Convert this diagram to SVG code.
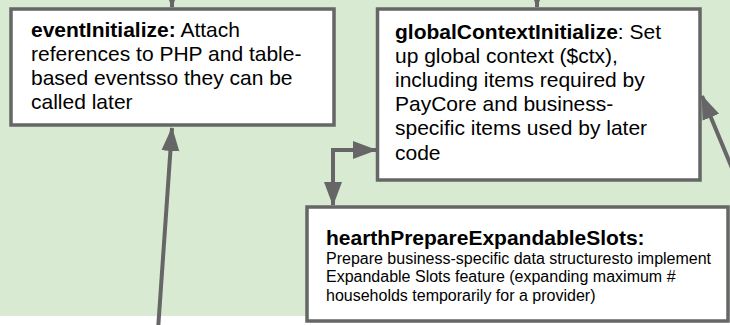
<svg xmlns="http://www.w3.org/2000/svg" width="730" height="325" viewBox="0 0 730 325">
  <style>
    .box { fill: #ffffff; stroke: #666666; stroke-width: 3.5; }
    .txt { font-family: "Liberation Sans", Arial, sans-serif; fill: #000000; }
    .big { font-size: 21px; }
    .small { font-size: 16px; }
    .b { font-weight: bold; }
    .wire { fill: none; stroke: #666666; stroke-width: 4; }
  </style>
  <defs>
    <marker id="head" markerUnits="userSpaceOnUse" markerWidth="24" markerHeight="20" viewBox="0 0 24 20" refX="23" refY="10" orient="auto">
      <path d="M0,1 L24,10 L0,19 Z" fill="#666666"/>
    </marker>
    <marker id="headStart" markerUnits="userSpaceOnUse" markerWidth="24" markerHeight="20" viewBox="0 0 24 20" refX="1" refY="10" orient="auto">
      <path d="M24,1 L0,10 L24,19 Z" fill="#666666"/>
    </marker>
  </defs>

  <!-- canvas background -->
  <rect x="0" y="0" width="730" height="325" fill="#ffffff"/>
  <rect x="0" y="0" width="730" height="316" fill="#d9ead3"/>

  <!-- connectors -->
  <g id="connectors">
    <line class="wire" x1="172" y1="-40" x2="172" y2="7" marker-end="url(#head)"/>
    <line class="wire" x1="537" y1="-40" x2="537" y2="7" marker-end="url(#head)"/>
    <line class="wire" x1="158" y1="330" x2="172" y2="128" marker-end="url(#head)"/>
    <line class="wire" x1="732" y1="168" x2="702" y2="96" marker-end="url(#head)"/>
    <path class="wire" d="M333,205 V150 H376" marker-start="url(#headStart)" marker-end="url(#head)"/>
  </g>

  <!-- eventInitialize -->
  <g id="eventInitialize">
    <rect class="box" x="11" y="9" width="323" height="116"/>
    <text class="txt big" x="31" y="37"><tspan class="b">eventInitialize:</tspan> Attach</text>
    <text class="txt big" x="31" y="61">references to PHP and table-</text>
    <text class="txt big" x="31" y="85">based eventsso they can be</text>
    <text class="txt big" x="31" y="109">called later</text>
  </g>

  <!-- globalContextInitialize -->
  <g id="globalContextInitialize">
    <rect class="box" x="377.5" y="9" width="322.5" height="171"/>
    <text class="txt big" x="395" y="38.5"><tspan class="b">globalContextInitialize</tspan>: Set</text>
    <text class="txt big" x="395" y="62.7">up global context ($ctx),</text>
    <text class="txt big" x="395" y="86.9">including items required by</text>
    <text class="txt big" x="395" y="111.1">PayCore and business-</text>
    <text class="txt big" x="395" y="135.3">specific items used by later</text>
    <text class="txt big" x="395" y="159.5">code</text>
  </g>

  <!-- hearthPrepareExpandableSlots -->
  <g id="hearthPrepareExpandableSlots">
    <rect class="box" x="307" y="207" width="421" height="114"/>
    <text class="txt big b" x="326" y="245">hearthPrepareExpandableSlots:</text>
    <text class="txt small" x="326" y="263.5">Prepare business-specific data structuresto implement</text>
    <text class="txt small" x="326" y="282">Expandable Slots feature (expanding maximum #</text>
    <text class="txt small" x="326" y="300.5">households temporarily for a provider)</text>
  </g>
</svg>
